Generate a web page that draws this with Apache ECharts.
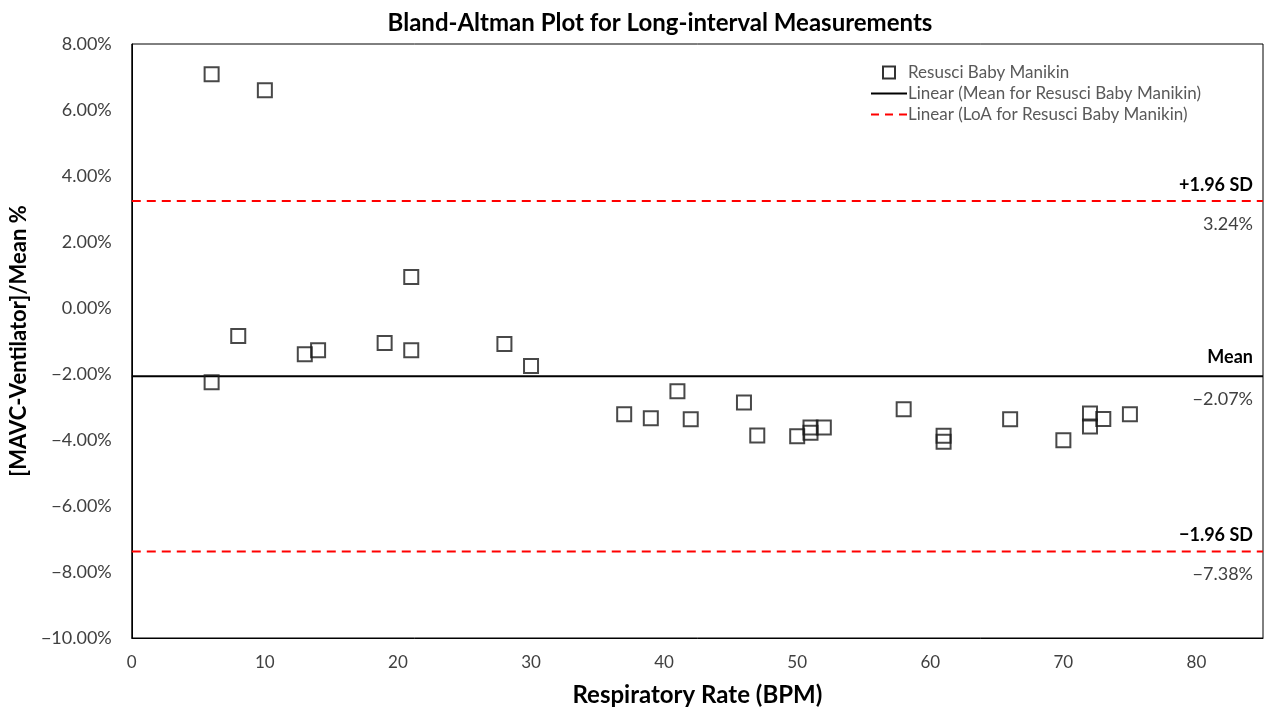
<!DOCTYPE html>
<html>
<head>
<meta charset="utf-8">
<script src="https://cdn.jsdelivr.net/npm/echarts@6/dist/echarts.min.js"></script>
<style>html,body{margin:0;padding:0;background:#fff}#c{width:1266px;height:713px}</style>
</head>
<body>
<div id="c"></div>
<script>
// Respiratory rate (BPM)
const rateBPM = [6, 10, 6, 8, 13, 14, 19, 21, 21, 28, 30, 37, 39, 41, 42, 46, 47, 50, 51, 51, 52, 58, 61, 61, 66, 70, 72, 72, 73, 75];
// [MAVC-Ventilator]/Mean (%)
const diffPct = [7.08, 6.60, -2.25, -0.85, -1.40, -1.28, -1.06, 0.94, -1.28, -1.09, -1.76, -3.22, -3.34, -2.52, -3.37, -2.86, -3.86, -3.89, -3.62, -3.78, -3.62, -3.07, -3.87, -4.05, -3.37, -4.01, -3.20, -3.59, -3.36, -3.22];
// Reference levels
const levelNames = ['+1.96 SD', 'Mean', '\u22121.96 SD'];
const levelValues = [3.24, -2.07, -7.38];
const xRange = [0, 85];
const yTicks = [-10, -8, -6, -4, -2, 0, 2, 4, 6, 8];

const FONT = 'Lato, "Open Sans", sans-serif';
const fmtPct = v => (v < 0 ? '\u2212' : '') + Math.abs(v).toFixed(2) + '%';

const chart = echarts.init(document.getElementById('c'));
const scatterData = rateBPM.map((x, i) => [x, diffPct[i]]);
const lineData = v => [[xRange[0], v], [xRange[1], v]];

const markData = [];
levelNames.forEach((n, i) => {
  markData.push({ yAxis: levelValues[i], label: { show: true, formatter: n, position: 'insideEndTop', fontWeight: 'bold', color: '#000', distance: [10, i === 1 ? 10 : 7] } });
  markData.push({ yAxis: levelValues[i], label: { show: true, formatter: fmtPct(levelValues[i]), position: 'insideEndBottom', color: '#404040', distance: [10, 14] } });
});

chart.setOption({
  animation: false,
  backgroundColor: '#fff',
  textStyle: { fontFamily: FONT },
  title: {
    text: 'Bland-Altman Plot for Long-interval Measurements',
    left: 655, top: 6, textAlign: 'center',
    textStyle: { fontFamily: FONT, fontSize: 24, fontWeight: 'bold', color: '#000' }
  },
  grid: { left: 131, right: 3, top: 44, bottom: 75, show: true, borderColor: '#000', borderWidth: 1, backgroundColor: 'transparent' },
  legend: {
    orient: 'vertical', left: 866, top: 59, itemWidth: 36, itemHeight: 12, itemGap: 4,
    textStyle: { fontFamily: FONT, fontSize: 17, color: '#595959', padding: [0, 0, 0, -4] },
    data: [
      { name: 'Resusci Baby Manikin', icon: 'path://M0,0H10V10H0Z', itemStyle: { color: 'rgba(0,0,0,0)', borderColor: '#000', borderWidth: 2 } },
      { name: 'Linear (Mean for Resusci Baby Manikin)', icon: 'path://M0,0H36V2H0Z', itemStyle: { color: '#000' } },
      { name: 'Linear (LoA for Resusci Baby Manikin)', icon: 'path://M0,0H8V2H0Z M14,0H22V2H14Z M28,0H36V2H28Z', itemStyle: { color: '#ff0000' } }
    ]
  },
  xAxis: {
    type: 'value', min: xRange[0], max: xRange[1], interval: 10,
    name: 'Respiratory Rate (BPM)', nameLocation: 'middle', nameGap: 45,
    nameTextStyle: { fontFamily: FONT, fontSize: 24, fontWeight: 'bold', color: '#000' },
    axisLine: { onZero: false, lineStyle: { color: '#000', width: 1 } },
    axisTick: { show: false }, splitLine: { show: false },
    axisLabel: { showMaxLabel: false, fontSize: 17, color: '#404040', margin: 16, fontFamily: FONT }
  },
  yAxis: {
    type: 'value', min: yTicks[0], max: yTicks[yTicks.length - 1], interval: 2,
    name: '[MAVC-Ventilator]/Mean %', nameLocation: 'middle', nameGap: 96,
    nameTextStyle: { fontFamily: FONT, fontSize: 22, fontWeight: 'bold', color: '#000' },
    axisLine: { onZero: false, lineStyle: { color: '#000', width: 1 } },
    axisTick: { show: false }, splitLine: { show: false },
    axisLabel: { fontSize: 18, color: '#404040', margin: 20, fontFamily: FONT, formatter: fmtPct }
  },
  series: [
    {
      name: 'Linear (Mean for Resusci Baby Manikin)', type: 'line', symbol: 'none', showSymbol: false,
      data: lineData(levelValues[1]), lineStyle: { color: '#000', width: 2 }, itemStyle: { color: '#000' }, z: 2
    },
    {
      name: 'Linear (LoA for Resusci Baby Manikin)', type: 'line', symbol: 'none', showSymbol: false,
      data: lineData(levelValues[0]), lineStyle: { color: '#ff0000', width: 2, type: [9, 6] }, itemStyle: { color: '#ff0000' }, z: 2
    },
    {
      name: 'Linear (LoA for Resusci Baby Manikin)', type: 'line', symbol: 'none', showSymbol: false,
      data: lineData(levelValues[2]), lineStyle: { color: '#ff0000', width: 2, type: [9, 6] }, itemStyle: { color: '#ff0000' }, z: 2
    },
    {
      name: 'Resusci Baby Manikin', type: 'scatter', symbol: 'rect', symbolSize: 14,
      data: scatterData,
      itemStyle: { color: 'rgba(0,0,0,0)', borderColor: '#1a1a1a', borderWidth: 2 },
      z: 3,
      markLine: {
        silent: true, symbol: 'none',
        lineStyle: { color: 'rgba(0,0,0,0)', width: 1, type: 'solid' },
        label: { show: true, fontFamily: FONT, fontSize: 18 },
        data: markData
      }
    }
  ]
});
</script>
</body>
</html>
